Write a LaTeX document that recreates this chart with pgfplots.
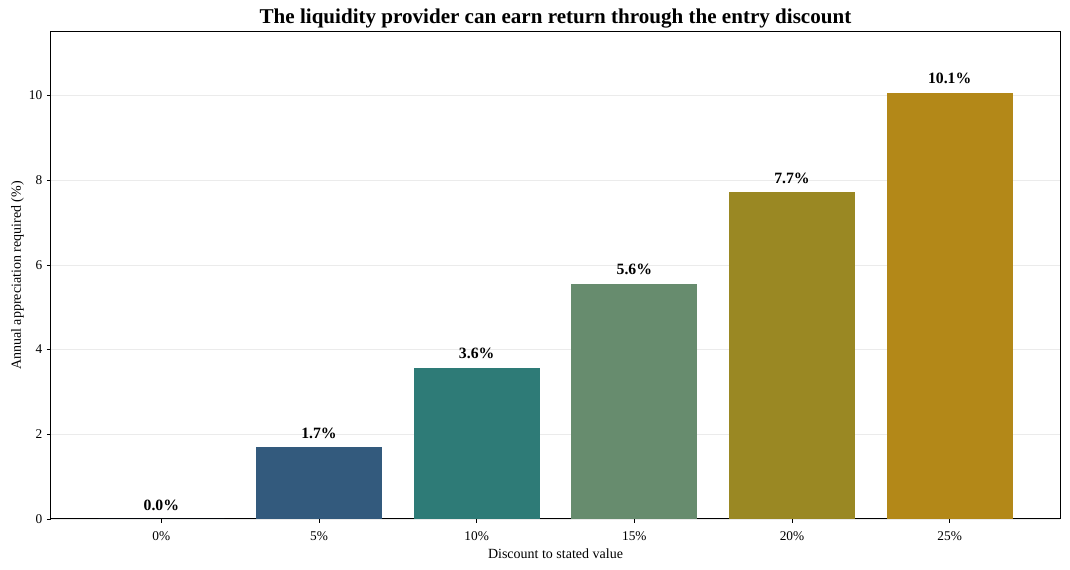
\documentclass[border=0pt]{standalone}
\usepackage{fontspec}
\setmainfont{Liberation Serif}
\usepackage{pgfplots}
\pgfplotsset{compat=1.18}

\definecolor{c0}{HTML}{1F3A5F}
\definecolor{c5}{HTML}{335A7D}
\definecolor{c10}{HTML}{2E7B77}
\definecolor{c15}{HTML}{678C6E}
\definecolor{c20}{HTML}{9A8823}
\definecolor{c25}{HTML}{B38818}
\definecolor{gridgray}{HTML}{EBEBEB}

\begin{document}
\begin{tikzpicture}
\useasboundingbox (-38.25pt,-38.25pt) rectangle (764.25pt,389.25pt);
\begin{axis}[
    scale only axis,
    width=756.75pt, height=365.25pt,
    xmin=-0.7, xmax=5.7,
    ymin=0, ymax=11.5,
    xtick={0,1,2,3,4,5},
    xticklabels={0\%,5\%,10\%,15\%,20\%,25\%},
    ytick={0,2,4,6,8,10},
    ymajorgrids=true,
    grid style={gridgray, line width=0.5pt},
    axis line style={black, line width=0.75pt},
    tick style={black, line width=0.6pt},
    major tick length=3pt,
    tick align=outside,
    xtick pos=bottom, ytick pos=left,
    /pgf/number format/assume math mode=true,
    ticklabel style={font=\fontsize{10}{11}\selectfont},
    xticklabel style={yshift=-3pt},
    title={\textbf{The liquidity provider can earn return through the entry discount}},
    title style={font=\fontsize{15.8}{18}\selectfont, yshift=-6.5pt},
    xlabel={Discount to stated value},
    ylabel={Annual appreciation required (\%)},
    label style={font=\fontsize{10.5}{12}\selectfont},
    xlabel style={yshift=1pt},
    ylabel style={yshift=-3pt},
    ybar, bar width=0.8, bar shift=0pt,
    nodes near coords={\pgfmathprintnumber[fixed,fixed zerofill,precision=1]{\pgfplotspointmeta}\%},
    nodes near coords style={font=\fontsize{11.8}{13}\selectfont\bfseries, black, yshift=3pt},
]
\addplot[fill=c0, draw=none] coordinates {(0,0.0)};
\addplot[fill=c5, draw=none] coordinates {(1,1.7)};
\addplot[fill=c10, draw=none] coordinates {(2,3.57)};
\addplot[fill=c15, draw=none] coordinates {(3,5.56)};
\addplot[fill=c20, draw=none] coordinates {(4,7.71)};
\addplot[fill=c25, draw=none] coordinates {(5,10.07)};
\end{axis}
\end{tikzpicture}
\end{document}
